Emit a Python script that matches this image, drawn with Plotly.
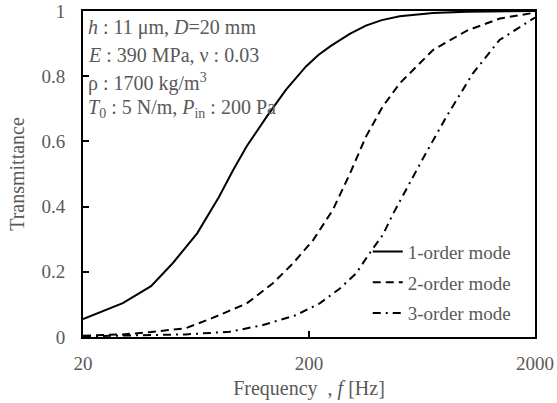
import plotly.graph_objects as go

# ---- data ----
mode1_f = [20, 30, 40, 50, 64, 80, 92, 106, 130, 158, 194, 220, 250, 303, 357, 420, 504, 707, 1000, 1400, 2000]
mode1_T = [0.055, 0.104, 0.156, 0.227, 0.318, 0.43, 0.51, 0.585, 0.676, 0.758, 0.83, 0.865, 0.893, 0.93,
           0.955, 0.972, 0.984, 0.994, 0.998, 1.0, 1.0]

mode2_f = [20, 30, 40, 57, 74, 106, 138, 170, 209, 255, 303, 357, 424, 504, 707, 1000, 1400, 2000]
mode2_T = [0.004, 0.008, 0.015, 0.027, 0.057, 0.103, 0.164, 0.226, 0.298, 0.39, 0.50, 0.614, 0.707,
           0.778, 0.88, 0.94, 0.977, 0.995]

mode3_f = [20, 40, 57, 89, 124, 175, 223, 274, 323, 371, 424, 472, 622, 811, 1063, 1393, 1700, 2000]
mode3_T = [0.002, 0.005, 0.008, 0.016, 0.036, 0.067, 0.103, 0.149, 0.195, 0.257, 0.313, 0.379, 0.533,
           0.676, 0.809, 0.911, 0.95, 0.98]

series_names = ["1-order mode", "2-order mode", "3-order mode"]
x_ticks = [20, 200, 2000]
x_ticktext = ["20", "200", "2000"]
y_ticks = [0, 0.2, 0.4, 0.6, 0.8, 1]
y_ticktext = ["0", "0.2", "0.4", "0.6", "0.8", "1"]

info_lines = [
    "<i>h</i> : 11 μm, <i>D</i>=20 mm",
    "<i>E</i> : 390 MPa, ν : 0.03",
    "ρ : 1700 kg/m<sup>3</sup>",
    "<i>T</i><sub>0</sub> : 5 N/m, <i>P</i><sub>in</sub> : 200 Pa",
]

FONT = "Liberation Serif, Times New Roman, serif"
GRAY = "#595959"

fig = go.Figure()
dashes = ["solid", "8px,5px", "8px,5px,2px,5px"]
for i, (f, T) in enumerate([(mode1_f, mode1_T), (mode2_f, mode2_T), (mode3_f, mode3_T)]):
    fig.add_trace(go.Scatter(
        x=f, y=T, mode="lines", name=series_names[i], legendgroup=f"g{i}",
        line=dict(color="black", width=2, dash=dashes[i]),
    ))

line_y = [0.948, 0.865, 0.782, 0.702]
for txt, yy in zip(info_lines, line_y):
    fig.add_annotation(text=txt, xref="paper", yref="paper", x=0.006, y=yy,
                       xanchor="left", yanchor="middle", showarrow=False,
                       font=dict(family=FONT, size=20, color=GRAY))

fig.update_layout(
    width=557, height=403,
    margin=dict(l=83, r=22, t=11, b=66, autoexpand=False),
    plot_bgcolor="white", paper_bgcolor="white",
    font=dict(family=FONT, size=19, color=GRAY),
    showlegend=True,
    legend=dict(x=0.63, y=0.32, xanchor="left", yanchor="top",
                bgcolor="rgba(0,0,0,0)", borderwidth=0,
                font=dict(family=FONT, size=19, color=GRAY),
                tracegroupgap=3, traceorder="grouped"),
    xaxis=dict(type="log", range=[1.30103, 3.30103], tickvals=x_ticks, ticktext=x_ticktext,
               ticks="inside", ticklen=6, tickwidth=1.5, tickcolor="black",
               showline=True, linecolor="black", linewidth=2, mirror=True,
               showgrid=False, zeroline=False, automargin=False, ticklabelstandoff=8,
               tickfont=dict(family=FONT, size=19, color=GRAY),
               title=dict(text="Frequency  , <i>f</i> [Hz]", standoff=8,
                          font=dict(family=FONT, size=20, color=GRAY))),
    yaxis=dict(range=[0, 1], tickvals=y_ticks, ticktext=y_ticktext,
               ticks="inside", ticklen=6, tickwidth=1.5, tickcolor="black",
               showline=True, linecolor="black", linewidth=2, mirror=True,
               showgrid=False, zeroline=False, automargin=False, ticklabelstandoff=12,
               tickfont=dict(family=FONT, size=19, color=GRAY),
               title=dict(text="Transmittance", standoff=11,
                          font=dict(family=FONT, size=20, color=GRAY))),
)

fig.write_html("out.html")
